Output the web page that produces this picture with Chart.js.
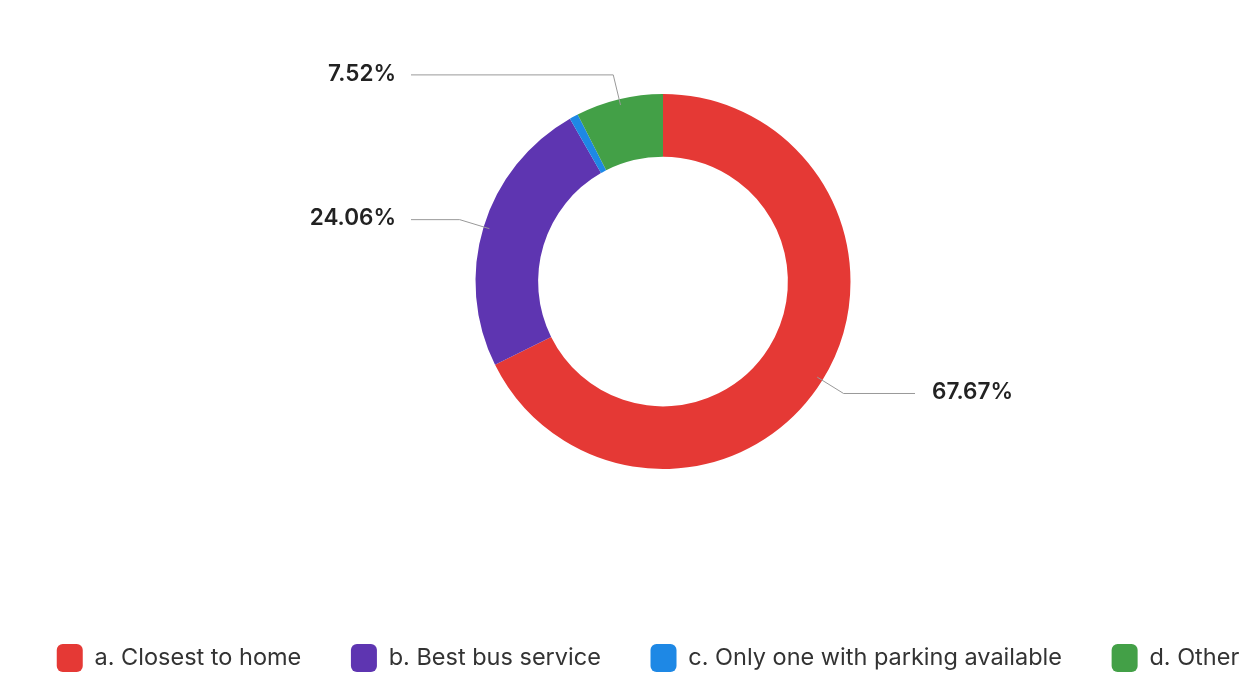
<!DOCTYPE html>
<html>
<head>
<meta charset="utf-8">
<script src="https://cdn.jsdelivr.net/npm/chart.js@4"></script>
<style>
  html, body { margin: 0; padding: 0; background: #ffffff; }
  #wrap { width: 1250px; height: 694px; position: relative; }
</style>
</head>
<body>
<div id="wrap"><canvas id="c" width="1250" height="694"></canvas></div>
<script>
const categories = [
  "a. Closest to home",
  "b. Best bus service",
  "c. Only one with parking available",
  "d. Other"
];
const shares = [67.67, 24.06, 0.75, 7.52];
const sliceColors = ["#E53935", "#5E35B1", "#1E88E5", "#43A047"];
const labelledSlices = [true, true, false, true];

const legendGap = "      ";

const shiftPlugin = {
  id: 'shiftArea',
  afterLayout(chart) {
    chart.chartArea.left += 15;
    chart.chartArea.right += 15;
  }
};

const leaderPlugin = {
  id: 'leaders',
  afterDatasetsDraw(chart) {
    const ctx = chart.ctx;
    const meta = chart.getDatasetMeta(0);
    ctx.save();
    meta.data.forEach((arc, i) => {
      if (!labelledSlices[i]) return;
      const p = arc.getProps(['x', 'y', 'startAngle', 'endAngle', 'outerRadius'], true);
      const mid = (p.startAngle + p.endAngle) / 2;
      const dx = Math.cos(mid), dy = Math.sin(mid);
      const r1 = p.outerRadius - 6, r2 = p.outerRadius + 25;
      const x1 = p.x + dx * r1, y1 = p.y + dy * r1;
      const x2 = p.x + dx * r2, y2 = p.y + dy * r2;
      const right = dx >= 0;
      const x3 = right ? p.x + 252 : p.x - 252;
      ctx.strokeStyle = '#999999';
      ctx.lineWidth = 1;
      ctx.beginPath();
      ctx.moveTo(x1, y1);
      ctx.lineTo(x2, y2);
      ctx.lineTo(x3, y2);
      ctx.stroke();
      ctx.fillStyle = '#222222';
      ctx.font = '600 22.5px Inter, "Noto Sans", sans-serif';
      ctx.textBaseline = 'middle';
      ctx.textAlign = right ? 'left' : 'right';
      ctx.fillText(shares[i].toFixed(2) + '%', right ? x3 + 17 : x3 - 15, y2 - 1);
    });
    ctx.restore();
  }
};

new Chart(document.getElementById('c'), {
  type: 'doughnut',
  data: {
    labels: categories,
    datasets: [{
      data: shares,
      backgroundColor: sliceColors,
      borderWidth: 0
    }]
  },
  options: {
    responsive: false,
    animation: false,
    cutout: '66.6%',
    layout: { padding: { top: 94, bottom: 12, left: 46, right: 0 } },
    plugins: {
      tooltip: { enabled: false },
      legend: {
        position: 'bottom',
        title: { display: true, text: ' ', font: { size: 10, lineHeight: 1 }, padding: { top: 155, bottom: 0 } },
        labels: {
          boxWidth: 26,
          boxHeight: 28,
          useBorderRadius: true,
          borderRadius: 6,
          padding: 10,
          color: '#333333',
          font: { family: 'Inter, "Noto Sans", sans-serif', size: 23.5 },
          generateLabels(chart) {
            const items = Chart.overrides.doughnut.plugins.legend.labels.generateLabels(chart);
            items.forEach((it, i) => {
              it.text = categories[i] + (i < categories.length - 1 ? legendGap : '');
              it.strokeStyle = sliceColors[i];
              it.lineWidth = 0;
            });
            return items;
          }
        }
      }
    }
  },
  plugins: [shiftPlugin, leaderPlugin]
});
</script>
</body>
</html>
